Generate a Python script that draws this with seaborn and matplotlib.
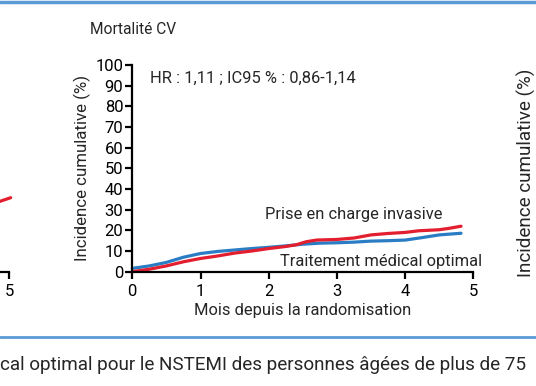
import pandas as pd
import seaborn as sns
import matplotlib.pyplot as plt
import matplotlib.lines as mlines

# Data (months, cumulative incidence %)
months_omt = [0, 0.25, 0.5, 0.75, 1, 1.25, 1.5, 1.75, 2, 2.25, 2.5, 2.75, 3, 3.25, 3.5, 3.75, 4, 4.25, 4.5, 4.82]
omt = [1.6, 2.8, 4.5, 7.0, 8.8, 9.8, 10.5, 11.2, 11.8, 12.5, 13.3, 13.8, 14.0, 14.3, 14.8, 15.0, 15.3, 16.5, 17.8, 18.6]
months_inv = [0, 0.25, 0.5, 0.75, 1, 1.25, 1.5, 1.75, 2, 2.25, 2.4, 2.55, 2.7, 3, 3.25, 3.5, 3.75, 4, 4.2, 4.5, 4.65, 4.82]
invasive = [0, 1.2, 2.8, 4.8, 6.4, 7.6, 9.0, 10.0, 11.2, 12.2, 13.0, 14.5, 15.3, 15.6, 16.3, 17.8, 18.5, 19.0, 19.8, 20.3, 21.0, 22.0]
# left (cut-off) panel, only the end of the invasive curve shows
months_left = [4.5, 4.86, 5.02]
invasive_left = [33.0, 34.0, 35.8]

yticks = list(range(0, 101, 10))
xticks = [0, 1, 2, 3, 4, 5]

RED = '#e31e2f'
BLUE = '#2a7dc4'

sns.set_style("ticks")
plt.rcParams['font.family'] = ['Roboto', 'DejaVu Sans']

df_main = pd.concat([
    pd.DataFrame({'mois': months_inv, 'inc': invasive, 'bras': 'inv'}),
    pd.DataFrame({'mois': months_omt, 'inc': omt, 'bras': 'omt'}),
])

fig = plt.figure(figsize=(5.36, 3.86), dpi=100)
W, H = 536, 386

def setup(ax):
    ax.set_xlim(0, 5)
    ax.set_ylim(0, 100)
    ax.set_xticks(xticks)
    ax.set_yticks(yticks)
    for s in ['top', 'right']:
        ax.spines[s].set_visible(False)
    for s in ['left', 'bottom']:
        ax.spines[s].set_linewidth(1.6)
        ax.spines[s].set_color('black')
    ax.tick_params(direction='out', length=5, width=1.6, labelsize=12, pad=1.5, colors='black')
    ax.tick_params(axis='x', pad=4)
    ax.set_xlabel('')
    ax.set_ylabel('')
    ax.patch.set_alpha(0)

# main panel
ax = fig.add_axes([132.3 / W, 114.3 / H, 341 / W, 206.7 / H])
sns.lineplot(data=df_main, x='mois', y='inc', hue='bras', palette={'inv': RED, 'omt': BLUE},
             hue_order=['omt', 'inv'], linewidth=2.3, legend=False, ax=ax, clip_on=False)
setup(ax)
ax.set_ylabel('Incidence cumulative (%)', fontsize=12.2, labelpad=3)
ax.set_xlabel('Mois depuis la randomisation', fontsize=11.9, labelpad=3)
ax.text(0.26, 93.7, 'HR : 1,11 ; IC95 % : 0,86-1,14', fontsize=11.9, va='center', ha='left')
ax.text(1.95, 27.9, 'Prise en charge invasive', fontsize=11.9, va='center', ha='left')
ax.text(2.17, 4.8, 'Traitement médical optimal', fontsize=11.9, va='center', ha='left')

# left panel, mostly outside the crop: only its last x tick is in view
ax_l = fig.add_axes([(9.3 - 341) / W, 114.3 / H, 341 / W, 206.7 / H])
sns.lineplot(x=months_left, y=invasive_left, color=RED, linewidth=2.3, ax=ax_l, clip_on=False)
setup(ax_l)
ax_l.set_xticks([5])
ax_l.set_yticks([])

# right panel y label only
fig.text(526 / W, 1 - 173 / H, 'Incidence cumulative (%)', rotation=90, fontsize=13.6,
         ha='center', va='center')

fig.text(90 / W, 1 - 30 / H, 'Mortalité CV', fontsize=11.2, ha='left', va='center')

# blue rules
fig.add_artist(mlines.Line2D([0, 1], [1 - 2 / H, 1 - 2 / H], color='#5b9bd5', linewidth=2.5))
fig.add_artist(mlines.Line2D([0, 1], [1 - 337 / H, 1 - 337 / H], color='#5b9bd5', linewidth=2.0))

fig.text(0, 1 - 365 / H, 'cal optimal pour le NSTEMI des personnes âgées de plus de 75',
         fontsize=13.6, ha='left', va='center')

fig.savefig('out.png', dpi=100)
